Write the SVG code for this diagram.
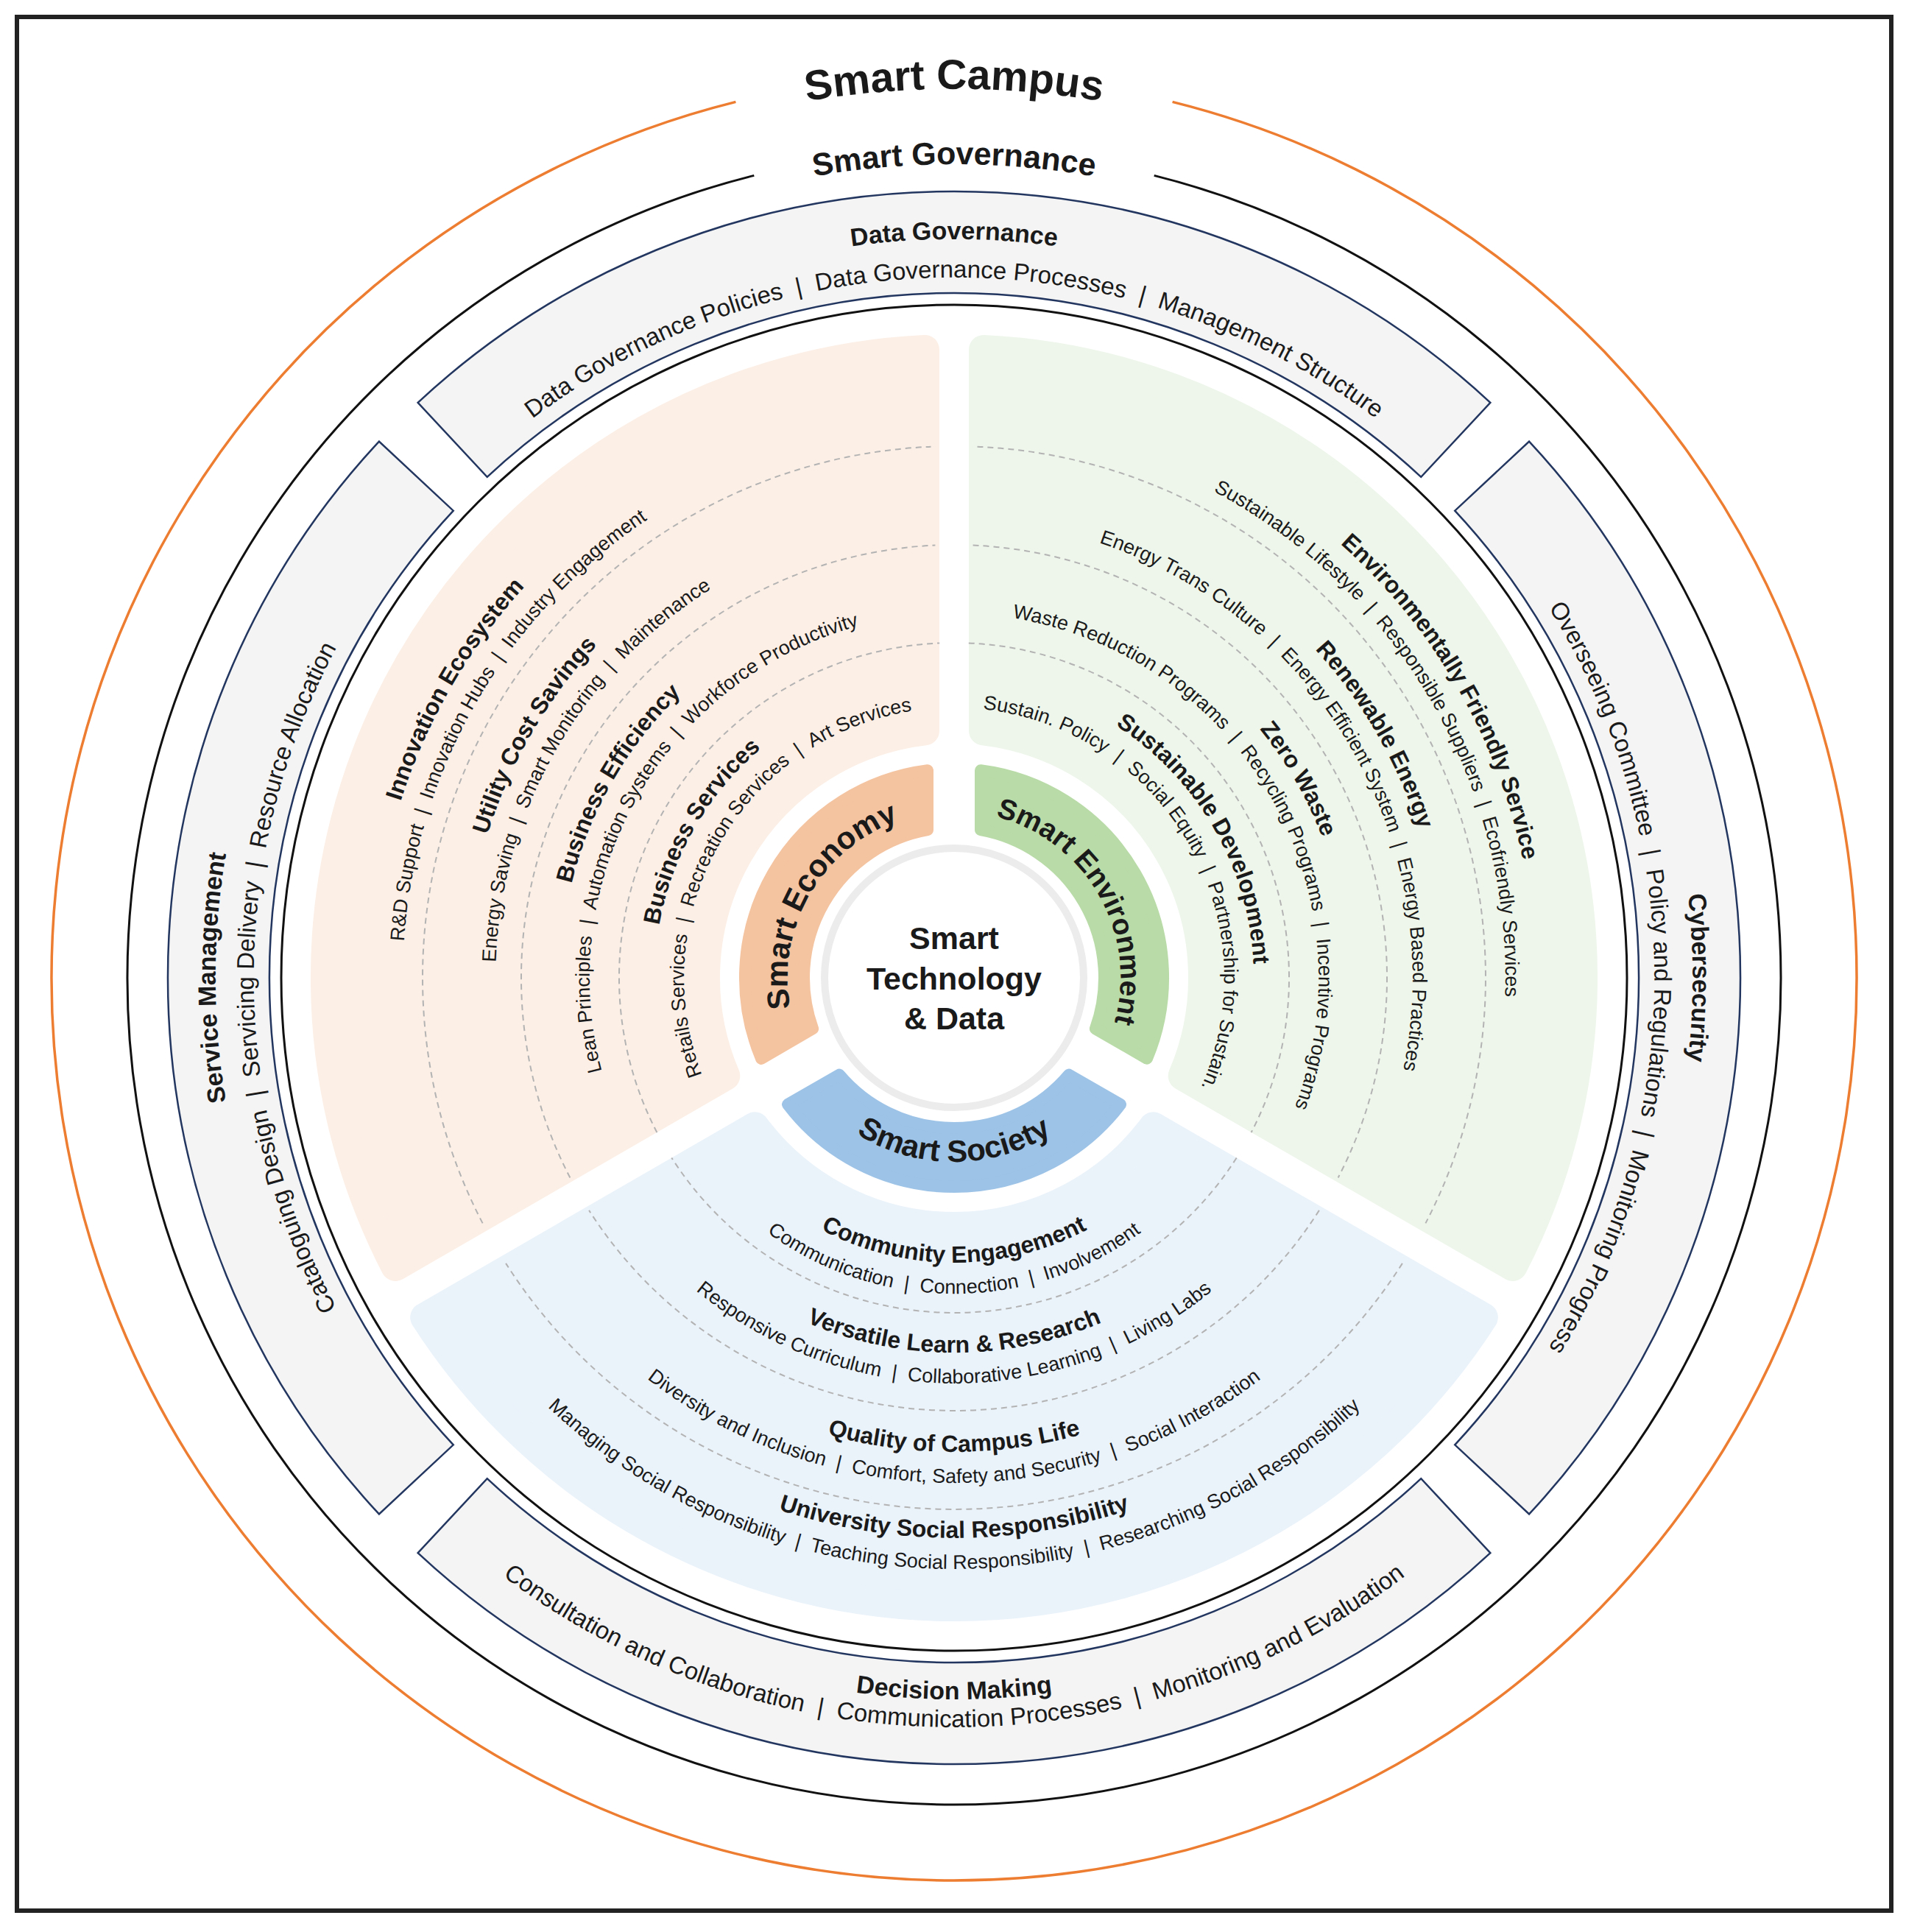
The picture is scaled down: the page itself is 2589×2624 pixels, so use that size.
<svg xmlns="http://www.w3.org/2000/svg" xmlns:xlink="http://www.w3.org/1999/xlink" width="2589" height="2624" viewBox="0 0 2589 2624">
<style>
text{font-family:"Liberation Sans",Arial,sans-serif;fill:#1a1a1a;}
.b{font-weight:bold;font-size:32px;}
.s{font-size:27px;}
.bb{font-weight:bold;font-size:34px;}
.bs{font-size:33px;}
.ring{font-weight:bold;font-size:42px;}
.box{fill:#f4f4f4;stroke:#22365f;stroke-width:2.5;}
.dash{fill:none;stroke:#b3b3b3;stroke-width:2;stroke-dasharray:8 6;}
</style>
<defs>
<path id="c367" d="M-361.4,-63.7 A367,367 0 0 1 361.4,-63.7"/>
<path id="c407" d="M-400.8,-70.7 A407,407 0 0 1 400.8,-70.7"/>
<path id="c495" d="M-487.5,-86 A495,495 0 0 1 487.5,-86"/>
<path id="c535" d="M-526.9,-92.9 A535,535 0 0 1 526.9,-92.9"/>
<path id="c623" d="M-613.5,-108.2 A623,623 0 0 1 613.5,-108.2"/>
<path id="c663" d="M-652.9,-115.1 A663,663 0 0 1 652.9,-115.1"/>
<path id="c749" d="M-737.6,-130.1 A749,749 0 0 1 737.6,-130.1"/>
<path id="c789" d="M-777,-137 A789,789 0 0 1 777,-137"/>
<path id="c226" d="M-222.6,-39.2 A226,226 0 0 1 222.6,-39.2"/>
<path id="c951" d="M-936.6,-165.1 A951,951 0 0 1 936.6,-165.1"/>
<path id="c1003" d="M-987.8,-174.2 A1003,1003 0 0 1 987.8,-174.2"/>
<path id="c1105" d="M-1088.2,-191.9 A1105,1105 0 0 1 1088.2,-191.9"/>
<path id="c1207" d="M-1188.7,-209.6 A1207,1207 0 0 1 1188.7,-209.6"/>
<path id="a387" d="M-381.1,67.2 A387,387 0 0 0 381.1,67.2"/>
<path id="a429" d="M-422.5,74.5 A429,429 0 0 0 422.5,74.5"/>
<path id="a509" d="M-501.3,88.4 A509,509 0 0 0 501.3,88.4"/>
<path id="a551" d="M-542.6,95.7 A551,551 0 0 0 542.6,95.7"/>
<path id="a644" d="M-634.2,111.8 A644,644 0 0 0 634.2,111.8"/>
<path id="a686" d="M-675.6,119.1 A686,686 0 0 0 675.6,119.1"/>
<path id="a761" d="M-749.4,132.1 A761,761 0 0 0 749.4,132.1"/>
<path id="a803" d="M-790.8,139.4 A803,803 0 0 0 790.8,139.4"/>
<path id="a250" d="M-246.2,43.4 A250,250 0 0 0 246.2,43.4"/>
<path id="a980" d="M-965.1,170.2 A980,980 0 0 0 965.1,170.2"/>
<path id="a1018" d="M-1002.5,176.8 A1018,1018 0 0 0 1002.5,176.8"/>
<path id="boxshape" d="M567.6,546.9 A1068,1068 0 0 1 2024.4,546.9 L1930.3,647.8 A930,930 0 0 0 661.7,647.8 Z"/>
</defs>
<rect x="0" y="0" width="2589" height="2624" fill="#fff"/>
<rect id="frame" x="23" y="23" width="2546" height="2572" fill="none" stroke="#222" stroke-width="6"/>

<g id="connectors">
<path d="M1592.6,138.4 A1226,1226 0 1 1 999.4,138.4" fill="none" stroke="#ed7d31" stroke-width="3.5"/>
<path d="M1567.7,238.4 A1123,1123 0 1 1 1024.3,238.4" fill="none" stroke="#111" stroke-width="3"/>
<circle cx="1296" cy="1328" r="914" fill="none" stroke="#111" stroke-width="3"/>
</g>

<g id="smart-campus">
<text class="bb" style="font-size:57px" transform="translate(1296 1328)"><textPath href="#c1207" startOffset="50%" text-anchor="middle">Smart Campus</textPath></text>
</g>
<g id="smart-governance">
<text class="bb" style="font-size:43px" transform="translate(1296 1328)"><textPath href="#c1105" startOffset="50%" text-anchor="middle">Smart Governance</textPath></text>
</g>

<g id="data-governance">
<use href="#boxshape" class="box"/>
<g transform="translate(1296 1328)">
<text class="bb"><textPath href="#c1003" startOffset="50%" text-anchor="middle">Data Governance</textPath></text>
<text class="bs"><textPath href="#c951" startOffset="50%" text-anchor="middle">Data Governance Policies &#160;|&#160; Data Governance Processes &#160;|&#160; Management Structure</textPath></text>
</g>
</g>
<g id="cybersecurity">
<use href="#boxshape" class="box" transform="rotate(90 1296 1328)"/>
<g transform="translate(1296 1328) rotate(90)">
<text class="bb"><textPath href="#c1003" startOffset="50%" text-anchor="middle">Cybersecurity</textPath></text>
<text class="bs"><textPath href="#c951" startOffset="50%" text-anchor="middle">Overseeing Committee &#160;|&#160; Policy and Regulations &#160;|&#160; Monitoring Progress</textPath></text>
</g>
</g>
<g id="decision-making">
<use href="#boxshape" class="box" transform="rotate(180 1296 1328)"/>
<g transform="translate(1296 1328)">
<text class="bb"><textPath href="#a980" startOffset="50%" text-anchor="middle">Decision Making</textPath></text>
<text class="bs"><textPath href="#a1018" startOffset="50%" text-anchor="middle">Consultation and Collaboration &#160;|&#160; Communication Processes &#160;|&#160; Monitoring and Evaluation</textPath></text>
</g>
</g>
<g id="service-management">
<use href="#boxshape" class="box" transform="rotate(-90 1296 1328)"/>
<g transform="translate(1296 1328) rotate(-90)">
<text class="bb"><textPath href="#c1003" startOffset="50%" text-anchor="middle">Service Management</textPath></text>
<text class="bs"><textPath href="#c951" startOffset="50%" text-anchor="middle">Cataloguing Design &#160;|&#160; Servicing Delivery &#160;|&#160; Resource Allocation</textPath></text>
</g>
</g>

<g id="economy-sector">
<path d="M537.2,1719.9 A854,854 0 0 1 1256,474.9 L1256,992.4 A338,338 0 0 0 985.3,1461.2 Z" fill="#fcefe6" stroke="#fcefe6" stroke-width="40" stroke-linejoin="round"/>
<path class="dash" d="M892.4,1538.1 A455,455 0 0 1 1276.2,873.4"/>
<path class="dash" d="M774.4,1599.5 A588,588 0 0 1 1270.4,740.6"/>
<path class="dash" d="M655.6,1661.4 A722,722 0 0 1 1264.5,606.7"/>
<g transform="translate(1296 1328) rotate(-60)">
<text class="s"><textPath href="#c367" startOffset="50%" text-anchor="middle">Retails Services &#160;|&#160; Recreation Services &#160;|&#160; Art Services</textPath></text>
<text class="b"><textPath href="#c407" startOffset="50%" text-anchor="middle">Business Services</textPath></text>
<text class="s"><textPath href="#c495" startOffset="50%" text-anchor="middle">Lean Principles &#160;|&#160; Automation Systems &#160;|&#160; Workforce Productivity</textPath></text>
<text class="b"><textPath href="#c535" startOffset="50%" text-anchor="middle">Business Efficiency</textPath></text>
<text class="s"><textPath href="#c623" startOffset="50%" text-anchor="middle">Energy Saving &#160;|&#160; Smart Monitoring &#160;|&#160; Maintenance</textPath></text>
<text class="b"><textPath href="#c663" startOffset="50%" text-anchor="middle">Utility Cost Savings</textPath></text>
<text class="s"><textPath href="#c749" startOffset="50%" text-anchor="middle">R&amp;D Support &#160;|&#160; Innovation Hubs &#160;|&#160; Industry Engagement</textPath></text>
<text class="b"><textPath href="#c789" startOffset="50%" text-anchor="middle">Innovation Ecosystem</textPath></text>
</g>
</g>

<g id="environment-sector">
<path d="M1336,474.9 A854,854 0 0 1 2054.8,1719.9 L1606.7,1461.2 A338,338 0 0 0 1336,992.4 Z" fill="#eef6eb" stroke="#eef6eb" stroke-width="40" stroke-linejoin="round"/>
<path class="dash" d="M1315.8,873.4 A455,455 0 0 1 1699.6,1538.1"/>
<path class="dash" d="M1321.6,740.6 A588,588 0 0 1 1817.6,1599.5"/>
<path class="dash" d="M1327.5,606.7 A722,722 0 0 1 1936.4,1661.4"/>
<g transform="translate(1296 1328) rotate(60)">
<text class="s"><textPath href="#c367" startOffset="50%" text-anchor="middle">Sustain. Policy &#160;|&#160; Social Equity &#160;|&#160; Partnership for Sustain.</textPath></text>
<text class="b"><textPath href="#c407" startOffset="50%" text-anchor="middle">Sustainable Development</textPath></text>
<text class="s"><textPath href="#c495" startOffset="50%" text-anchor="middle">Waste Reduction Programs &#160;|&#160; Recycling Programs &#160;|&#160; Incentive Programs</textPath></text>
<text class="b"><textPath href="#c535" startOffset="50%" text-anchor="middle">Zero Waste</textPath></text>
<text class="s"><textPath href="#c623" startOffset="50%" text-anchor="middle">Energy Trans Culture &#160;|&#160; Energy Efficient System &#160;|&#160; Energy Based Practices</textPath></text>
<text class="b"><textPath href="#c663" startOffset="50%" text-anchor="middle">Renewable Energy</textPath></text>
<text class="s"><textPath href="#c749" startOffset="50%" text-anchor="middle">Sustainable Lifestyle &#160;|&#160; Responsible Suppliers &#160;|&#160; Ecofriendly Services</textPath></text>
<text class="b"><textPath href="#c789" startOffset="50%" text-anchor="middle">Environmentally Friendly Service</textPath></text>
</g>
</g>

<g id="society-sector">
<path d="M2014.8,1789.2 A854,854 0 0 1 577.2,1789.2 L1025.3,1530.4 A338,338 0 0 0 1566.7,1530.4 Z" fill="#eaf2fa" stroke="#eaf2fa" stroke-width="40" stroke-linejoin="round"/>
<path class="dash" d="M1679.7,1572.5 A455,455 0 0 1 912.3,1572.5"/>
<path class="dash" d="M1791.9,1643.9 A588,588 0 0 1 800.1,1643.9"/>
<path class="dash" d="M1904.9,1715.9 A722,722 0 0 1 687.1,1715.9"/>
<g transform="translate(1296 1328)">
<text class="b"><textPath href="#a387" startOffset="50%" text-anchor="middle">Community Engagement</textPath></text>
<text class="s"><textPath href="#a429" startOffset="50%" text-anchor="middle">Communication &#160;|&#160; Connection &#160;|&#160; Involvement</textPath></text>
<text class="b"><textPath href="#a509" startOffset="50%" text-anchor="middle">Versatile Learn &amp; Research</textPath></text>
<text class="s"><textPath href="#a551" startOffset="50%" text-anchor="middle">Responsive Curriculum &#160;|&#160; Collaborative Learning &#160;|&#160; Living Labs</textPath></text>
<text class="b"><textPath href="#a644" startOffset="50%" text-anchor="middle">Quality of Campus Life</textPath></text>
<text class="s"><textPath href="#a686" startOffset="50%" text-anchor="middle">Diversity and Inclusion &#160;|&#160; Comfort, Safety and Security &#160;|&#160; Social Interaction</textPath></text>
<text class="b"><textPath href="#a761" startOffset="50%" text-anchor="middle">University Social Responsibility</textPath></text>
<text class="s"><textPath href="#a803" startOffset="50%" text-anchor="middle">Managing Social Responsibility &#160;|&#160; Teaching Social Responsibility &#160;|&#160; Researching Social Responsibility</textPath></text>
</g>
</g>

<g id="smart-economy">
<path d="M1034.1,1437.9 A284,284 0 0 1 1260,1046.3 L1260,1127.2 A204,204 0 0 0 1104.1,1397.2 Z" fill="#f4c3a0" stroke="#f4c3a0" stroke-width="16" stroke-linejoin="round"/>
<text class="ring" transform="translate(1296 1328) rotate(-60)"><textPath href="#c226" startOffset="50%" text-anchor="middle">Smart Economy</textPath></text>
</g>
<g id="smart-environment">
<path d="M1332,1046.3 A284,284 0 0 1 1558,1437.7 L1487.9,1397.2 A204,204 0 0 0 1332,1127.2 Z" fill="#b9dba7" stroke="#b9dba7" stroke-width="16" stroke-linejoin="round"/>
<text class="ring" style="font-size:39px" transform="translate(1296 1328) rotate(60)"><textPath href="#c226" startOffset="50%" text-anchor="middle">Smart Environment</textPath></text>
</g>
<g id="smart-society">
<path d="M1522,1500 A284,284 0 0 1 1070,1500 L1140.1,1459.6 A204,204 0 0 0 1451.9,1459.6 Z" fill="#9dc3e6" stroke="#9dc3e6" stroke-width="16" stroke-linejoin="round"/>
<text class="ring" transform="translate(1296 1328)"><textPath href="#a250" startOffset="50%" text-anchor="middle">Smart Society</textPath></text>
</g>

<g id="smart-technology-data">
<circle cx="1296" cy="1328" r="176" fill="#fff" stroke="#ececec" stroke-width="10"/>
<text x="1296" y="1289" text-anchor="middle" style="font-weight:bold;font-size:43px">Smart</text>
<text x="1296" y="1344" text-anchor="middle" style="font-weight:bold;font-size:43px">Technology</text>
<text x="1296" y="1398" text-anchor="middle" style="font-weight:bold;font-size:43px">&amp; Data</text>
</g>
</svg>
